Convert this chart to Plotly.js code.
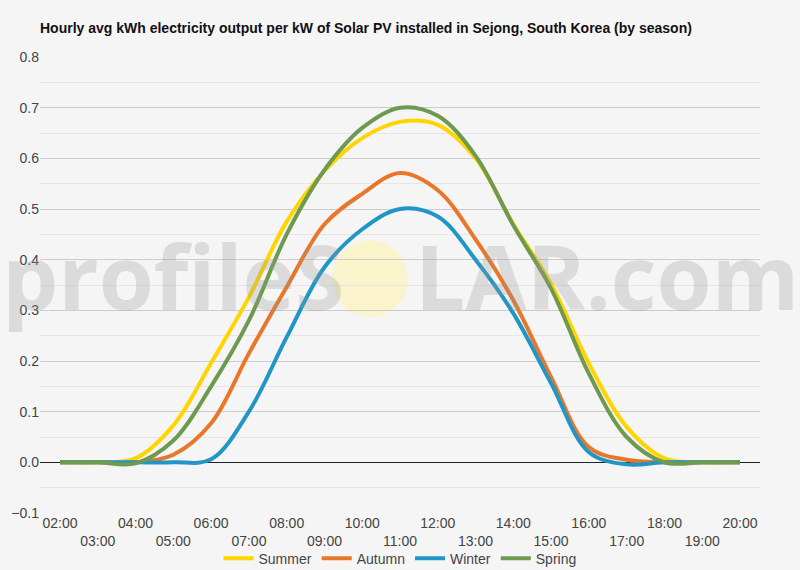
<!DOCTYPE html>
<html>
<head>
<meta charset="utf-8">
<script src="https://cdn.plot.ly/plotly-3.0.1.min.js"></script>
<style>
  body { margin: 0; background: #f5f5f5; }
  #chart { width: 800px; height: 570px; }
</style>
</head>
<body>
<div id="chart"></div>
<script>
var hours = ['02:00', '03:00', '04:00', '05:00', '06:00', '07:00', '08:00', '09:00', '10:00', '11:00',
             '12:00', '13:00', '14:00', '15:00', '16:00', '17:00', '18:00', '19:00', '20:00'];

var summer = [0, 0, 0.008, 0.073, 0.196, 0.326, 0.475, 0.575, 0.64, 0.672, 0.666, 0.60, 0.47, 0.352, 0.195, 0.07, 0.008, 0, 0];
var autumn = [0, 0, 0, 0.015, 0.077, 0.215, 0.346, 0.47, 0.53, 0.571, 0.537, 0.44, 0.32, 0.168, 0.03, 0.005, 0, 0, 0];
var winter = [0, 0, 0, 0, 0.006, 0.10, 0.247, 0.385, 0.46, 0.50, 0.485, 0.40, 0.294, 0.156, 0.02, -0.004, 0, 0, 0];
var spring = [0, 0, -0.002, 0.043, 0.15, 0.28, 0.45, 0.577, 0.66, 0.70, 0.684, 0.605, 0.468, 0.343, 0.175, 0.05, 0, 0, 0];

var seriesNames = ['Summer', 'Autumn', 'Winter', 'Spring'];
var seriesColors = ['#ffd400', '#e8772a', '#2196c6', '#6e9a4f'];

// even hours on the first row, odd hours pushed to a second row
var tickLabels = hours.map(function(h, i) { return i % 2 === 0 ? h : '<br>' + h; });

var allSeries = [summer, autumn, winter, spring];
var data = allSeries.map(function(vals, i) {
    return {
        x: hours,
        y: vals,
        name: seriesNames[i],
        type: 'scatter',
        mode: 'lines',
        line: {color: seriesColors[i], width: 4, shape: 'spline', smoothing: 1},
        hoverinfo: 'none'
    };
});

// plot box in pixels, used to place the watermark
var plotL = 40, plotW = 720, plotB = 512.6, plotH = 455.6;

var layout = {
    width: 800,
    height: 570,
    paper_bgcolor: '#f5f5f5',
    plot_bgcolor: '#f5f5f5',
    margin: {t: 57, b: 57, l: 40, r: 40, autoexpand: false},
    font: {family: 'Liberation Sans, Arial, sans-serif', size: 14, color: '#444'},
    title: {
        text: '<b>Hourly avg kWh electricity output per kW of Solar PV installed in Sejong, South Korea (by season)</b>',
        font: {size: 14, color: '#111'},
        xref: 'paper', x: 0, xanchor: 'left',
        y: 0.951, yanchor: 'middle'
    },
    xaxis: {
        type: 'category',
        range: [-0.53, 18.53],
        tickvals: hours,
        ticktext: tickLabels,
        showgrid: false,
        showline: false,
        zeroline: false,
        ticks: '',
        fixedrange: true
    },
    yaxis: {
        range: [-0.1, 0.8],
        dtick: 0.1,
        tick0: 0,
        tickformat: '.1f',
        gridcolor: '#cccccc',
        gridwidth: 1,
        minor: {dtick: 0.05, showgrid: true, gridcolor: '#e6e6e6'},
        zeroline: true,
        zerolinecolor: '#222',
        zerolinewidth: 1,
        ticks: '',
        fixedrange: true
    },
    showlegend: true,
    legend: {
        orientation: 'h',
        x: 0.5, xanchor: 'center',
        y: -0.1, yanchor: 'middle',
        font: {size: 14, color: '#444'},
        bgcolor: 'rgba(0,0,0,0)'
    },
    shapes: [{
        type: 'circle',
        xref: 'paper', yref: 'paper',
        x0: (332 - plotL) / plotW, x1: (408 - plotL) / plotW,
        y0: (plotB - 317) / plotH, y1: (plotB - 240) / plotH,
        fillcolor: 'rgba(255,240,170,0.55)',
        line: {width: 0},
        layer: 'below'
    }],
    annotations: [{
        xref: 'paper', yref: 'paper',
        x: (400 - plotL) / plotW, y: (plotB - 275) / plotH,
        xanchor: 'center', yanchor: 'middle',
        showarrow: false,
        text: 'profileS<span style="color:rgba(0,0,0,0)">O</span>LAR.com',
        font: {family: 'Open Sans, sans-serif', size: 89, weight: 700, color: 'rgba(150,150,150,0.28)'}
    }]
};

Plotly.newPlot('chart', data, layout, {displayModeBar: false, staticPlot: true});
</script>
</body>
</html>
